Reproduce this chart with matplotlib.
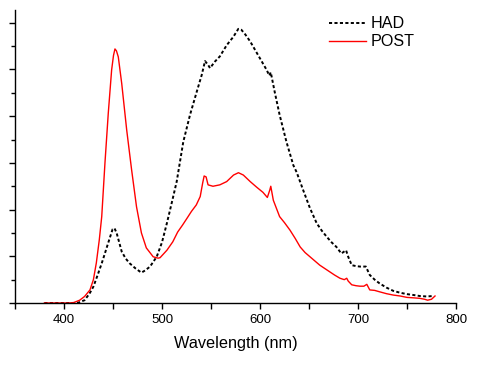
import matplotlib
matplotlib.use("Agg")
import matplotlib.pyplot as plt
from matplotlib.ticker import MultipleLocator

plt.rcParams['font.family'] = ['Liberation Sans', 'DejaVu Sans']

# POST (red) spectrum
post_wl = [380, 390, 400, 405, 410, 416, 421, 426.5, 430, 433, 436, 438.5, 441.8, 445.2, 448.6,
           450.5, 452, 453.5, 455.4, 458.9, 464, 469, 474, 479, 484, 491, 496, 498, 505, 511,
           516, 521, 526, 530, 535, 539, 541.5, 543, 545, 547, 552, 559, 566, 573, 578, 583,
           590, 596.6, 603, 607.5, 610, 611, 613.6, 620, 625, 630.6, 636, 641, 646, 651, 656,
           661, 666, 671, 676, 681.6, 686, 688.5, 690, 693.6, 698, 702, 706, 709, 712, 717,
           722, 729, 736, 743, 750, 757, 763, 768, 771, 775, 778.6]
post_val = [0.0, 0.0, 0.0, 0.0, 0.01, 0.06, 0.14, 0.28, 0.5, 0.86, 1.35, 1.85, 3.0, 4.07, 4.99,
            5.3, 5.44, 5.4, 5.27, 4.7, 3.7, 2.85, 2.06, 1.5, 1.18, 0.99, 0.96, 0.97, 1.13, 1.31,
            1.52, 1.67, 1.83, 1.96, 2.1, 2.28, 2.57, 2.72, 2.7, 2.53, 2.5, 2.53, 2.6, 2.74, 2.79, 2.74,
            2.6, 2.48, 2.37, 2.26, 2.42, 2.5, 2.2, 1.85, 1.72, 1.56, 1.38, 1.2, 1.08, 0.99, 0.9,
            0.81, 0.74, 0.67, 0.6, 0.53, 0.5, 0.53, 0.47, 0.39, 0.37, 0.36, 0.36, 0.4, 0.28, 0.27,
            0.24, 0.2, 0.17, 0.15, 0.12, 0.11, 0.1, 0.08, 0.06, 0.08, 0.15]

# HAD (black dashed) spectrum
had_wl = [380, 390, 400, 410, 415, 421, 426, 430, 434, 438.5, 442, 445, 449.6, 451.5, 453.7,
          458.9, 463, 467, 473, 479, 483, 487.8, 494.6, 500, 505, 510, 515, 521.7, 528.6, 535.4,
          540.5, 543.9, 547, 549, 554, 559, 566, 572.8, 577.9, 581, 585, 590, 598, 606.8, 609.5,
          611, 615, 620, 627, 634, 637.4, 644, 651, 657.8, 663, 668, 673, 678, 683, 687.8, 690,
          693.6, 698, 702, 708, 712, 717, 722, 729, 736, 743, 750, 757, 763, 770, 777]
had_val = [0.0, 0.0, 0.0, 0.0, 0.01, 0.06, 0.2, 0.35, 0.58, 0.85, 1.08, 1.28, 1.58, 1.6, 1.5,
           1.1, 0.95, 0.85, 0.74, 0.65, 0.7, 0.78, 0.99, 1.3, 1.71, 2.15, 2.6, 3.45, 4.03, 4.52,
           4.88, 5.18, 5.1, 5.03, 5.17, 5.28, 5.52, 5.7, 5.87, 5.85, 5.75, 5.6, 5.31, 4.99, 4.87,
           4.94, 4.52, 4.03, 3.45, 2.95, 2.8, 2.42, 2.03, 1.71, 1.55, 1.42, 1.3, 1.2, 1.06, 1.13, 0.99,
           0.81, 0.79, 0.78, 0.78, 0.6, 0.5, 0.42, 0.33, 0.26, 0.22, 0.19, 0.17, 0.15, 0.14, 0.15]

W, H = 496, 383
fig = plt.figure(figsize=(W / 100, H / 100), dpi=100)
ax = fig.add_axes([15 / W, (H - 303) / H, (456 - 15) / W, (303 - 10) / H])

ax.plot(had_wl, had_val, color='black', lw=1.4, linestyle=(0, (1.6, 1.2)), label='HAD')
ax.plot(post_wl, post_val, color='red', lw=1.0, label='POST')

ax.set_xlim(350, 800)
ax.set_ylim(0, 293 / 46.7)
ax.xaxis.set_major_locator(MultipleLocator(100))
ax.xaxis.set_minor_locator(MultipleLocator(50))
ax.yaxis.set_major_locator(MultipleLocator(1))
ax.yaxis.set_minor_locator(MultipleLocator(0.5))
ax.set_yticklabels([])
ax.tick_params(axis='both', which='major', direction='out', length=4, width=1, labelsize=9.5, pad=4)
ax.tick_params(axis='both', which='minor', direction='out', length=4, width=1)
ax.tick_params(axis='y', which='minor', length=3)
for s in ['top', 'right']:
    ax.spines[s].set_visible(False)
for s in ['left', 'bottom']:
    ax.spines[s].set_linewidth(1)

ax.set_xlabel('Wavelength (nm)', fontsize=11.7, labelpad=7)

ax.legend(loc='upper left', bbox_to_anchor=(326 / W, 1 - 13 / H), bbox_transform=fig.transFigure,
          frameon=False, fontsize=11.6, handlelength=2.3, handletextpad=0.25,
          labelspacing=0.2, borderaxespad=0, borderpad=0.2)

fig.savefig('out.png', dpi=100)
